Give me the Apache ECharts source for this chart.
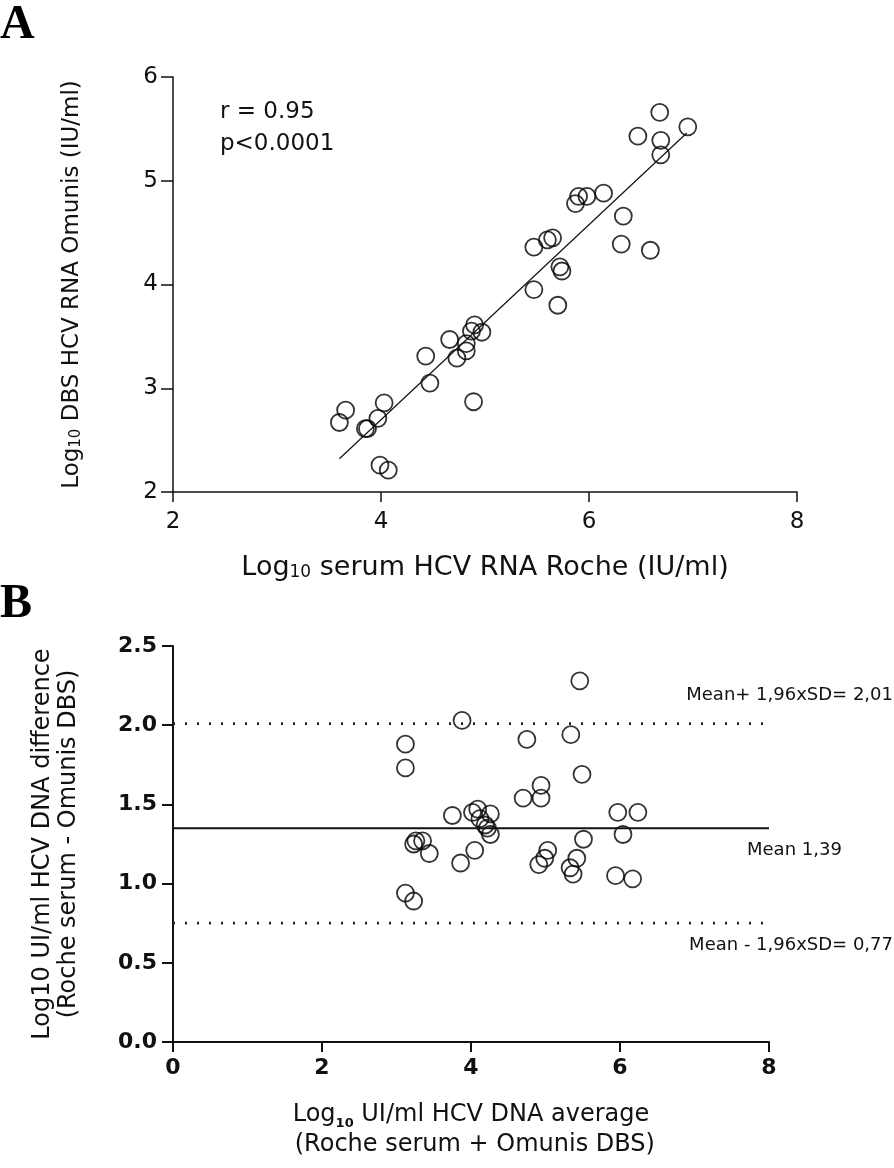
<!DOCTYPE html>
<html>
<head>
<meta charset="utf-8">
<script src="https://cdn.jsdelivr.net/npm/echarts@6/dist/echarts.min.js"></script>
<style>
html,body{margin:0;padding:0;background:#fff;}
#chart{width:894px;height:1168px;}
</style>
</head>
<body>
<div id="chart"></div>
<script>
// ---------- Panel A data ----------
const aSerum = [6.68, 6.95, 6.47, 6.69, 6.69, 5.90, 5.98, 5.87, 6.14, 6.33, 6.31, 6.59,
  5.47, 5.60, 5.65, 5.72, 5.74, 5.47, 5.70, 4.90, 4.97, 4.87, 4.66, 4.82, 4.82, 4.73,
  4.43, 4.47, 4.89, 4.03, 3.97, 3.66, 3.60, 3.85, 3.87, 3.99, 4.07];
const aDBS = [5.66, 5.52, 5.43, 5.39, 5.25, 4.85, 4.85, 4.78, 4.88, 4.66, 4.39, 4.33,
  4.36, 4.43, 4.45, 4.17, 4.13, 3.95, 3.80, 3.61, 3.54, 3.55, 3.47, 3.43, 3.36, 3.29,
  3.31, 3.05, 2.87, 2.86, 2.71, 2.79, 2.67, 2.61, 2.61, 2.26, 2.21];
const aFitX = [3.60, 6.94];
const aFitY = [2.32, 5.46];
const aXTicks = [2, 4, 6, 8];
const aYTicks = [2, 3, 4, 5, 6];

// ---------- Panel B data ----------
const bAverage = [5.46, 3.88, 3.12, 3.12, 4.75, 5.34, 5.49, 4.94, 4.70, 4.94, 3.75, 4.02,
  4.09, 4.26, 4.12, 4.19, 4.22, 4.26, 5.97, 6.24, 6.04, 5.51, 3.23, 3.26, 3.35, 3.44,
  4.05, 3.86, 5.03, 4.99, 4.91, 5.42, 5.33, 5.37, 5.94, 6.17, 3.12, 3.23];
const bDifference = [2.28, 2.03, 1.88, 1.73, 1.91, 1.94, 1.69, 1.62, 1.54, 1.54, 1.43, 1.45,
  1.47, 1.44, 1.41, 1.37, 1.35, 1.31, 1.45, 1.45, 1.31, 1.28, 1.25, 1.27, 1.27, 1.19,
  1.21, 1.13, 1.21, 1.16, 1.12, 1.16, 1.10, 1.06, 1.05, 1.03, 0.94, 0.89];
const bMean = 1.35;
const bUpper = 2.01;
const bLower = 0.75;
const bRange = [0, 8];
const bXTicks = [0, 2, 4, 6, 8];
const bYTicks = [0, 0.5, 1.0, 1.5, 2.0, 2.5];

const FONT = '"DejaVu Sans", "Liberation Sans", Arial, sans-serif';
const INK = '#111';

const chart = echarts.init(document.getElementById('chart'), null, {renderer: 'canvas'});

const circleStyle = {color: 'rgba(0,0,0,0)', borderColor: '#000', borderWidth: 1.8};

const option = {
  backgroundColor: '#fff',
  animation: false,
  grid: [
    {left: 173, top: 77, width: 624, height: 415},
    {left: 173, top: 646, width: 596, height: 396}
  ],
  xAxis: [
    {
      gridIndex: 0, type: 'value', min: aXTicks[0], max: aXTicks[aXTicks.length - 1], interval: 2,
      splitLine: {show: false},
      axisLine: {lineStyle: {color: INK, width: 1.5}},
      axisTick: {length: 10, lineStyle: {color: INK, width: 1.5}},
      axisLabel: {color: INK, fontFamily: FONT, fontSize: 23, margin: 19},
      name: 'Log{sub|10} serum HCV RNA Roche (IU/ml)',
      nameLocation: 'middle', nameGap: 62,
      nameTextStyle: {color: INK, fontFamily: FONT, fontSize: 27,
        rich: {sub: {fontFamily: FONT, fontSize: 17, color: INK, verticalAlign: 'bottom', padding: [9, 0, 0, 0]}}}
    },
    {
      gridIndex: 1, type: 'value', min: bRange[0], max: bRange[1], interval: 2,
      splitLine: {show: false},
      axisLine: {lineStyle: {color: INK, width: 2}},
      axisTick: {length: 10, lineStyle: {color: INK, width: 2}},
      axisLabel: {color: INK, fontFamily: FONT, fontWeight: 'bold', fontSize: 22, margin: 15},
      name: 'Log{sub|10} UI/ml HCV DNA average\n (Roche serum + Omunis DBS)',
      nameLocation: 'middle', nameGap: 58,
      nameTextStyle: {color: INK, fontFamily: FONT, fontSize: 24, lineHeight: 30,
        rich: {sub: {fontFamily: FONT, fontSize: 13, fontWeight: 'bold', color: INK, verticalAlign: 'bottom', padding: [7, 0, 0, 0]}}}
    }
  ],
  yAxis: [
    {
      gridIndex: 0, type: 'value', min: aYTicks[0], max: aYTicks[aYTicks.length - 1], interval: 1,
      splitLine: {show: false},
      axisLine: {lineStyle: {color: INK, width: 1.5}},
      axisTick: {length: 12, lineStyle: {color: INK, width: 1.5}},
      axisLabel: {color: INK, fontFamily: FONT, fontSize: 23, margin: 15},
      name: 'Log{sub|10} DBS HCV RNA Omunis (IU/ml)',
      nameLocation: 'middle', nameGap: 89, nameRotate: 90,
      nameTextStyle: {color: INK, fontFamily: FONT, fontSize: 23,
        rich: {sub: {fontFamily: FONT, fontSize: 15, color: INK, verticalAlign: 'bottom', padding: [8, 0, 0, 0]}}}
    },
    {
      gridIndex: 1, type: 'value', min: bYTicks[0], max: bYTicks[bYTicks.length - 1], interval: 0.5,
      splitLine: {show: false},
      axisLine: {lineStyle: {color: INK, width: 2}},
      axisTick: {length: 11, lineStyle: {color: INK, width: 2}},
      axisLabel: {color: INK, fontFamily: FONT, fontWeight: 'bold', fontSize: 22, margin: 16,
        formatter: v => v.toFixed(1)},
      name: 'Log10 UI/ml HCV DNA difference\n(Roche serum - Omunis DBS)',
      nameLocation: 'middle', nameGap: 91, nameRotate: 90,
      nameTextStyle: {color: INK, fontFamily: FONT, fontSize: 24, lineHeight: 26}
    }
  ],
  series: [
    {
      type: 'scatter', xAxisIndex: 0, yAxisIndex: 0, symbol: 'circle', symbolSize: 17,
      itemStyle: circleStyle,
      data: aSerum.map((x, i) => [x, aDBS[i]])
    },
    {
      type: 'line', xAxisIndex: 0, yAxisIndex: 0, symbol: 'none',
      lineStyle: {color: INK, width: 1.2},
      data: aFitX.map((x, i) => [x, aFitY[i]])
    },
    {
      type: 'scatter', xAxisIndex: 1, yAxisIndex: 1, symbol: 'circle', symbolSize: 17,
      itemStyle: circleStyle,
      data: bAverage.map((x, i) => [x, bDifference[i]])
    },
    {
      type: 'line', xAxisIndex: 1, yAxisIndex: 1, symbol: 'none',
      lineStyle: {color: INK, width: 2},
      data: bRange.map(x => [x, bMean])
    },
    {
      type: 'line', xAxisIndex: 1, yAxisIndex: 1, symbol: 'none',
      lineStyle: {color: '#222', width: 2.8, type: [2, 10]},
      data: bRange.map(x => [x, bUpper])
    },
    {
      type: 'line', xAxisIndex: 1, yAxisIndex: 1, symbol: 'none',
      lineStyle: {color: '#222', width: 2.8, type: [2, 10]},
      data: bRange.map(x => [x, bLower])
    }
  ],
  graphic: [
    {type: 'text', left: 0, top: 2, style: {text: 'A', font: 'bold 48px "Liberation Serif", "Times New Roman", serif', fill: '#000'}},
    {type: 'text', left: 0, top: 581, style: {text: 'B', font: 'bold 48px "Liberation Serif", "Times New Roman", serif', fill: '#000'}},
    {type: 'text', left: 220, top: 101, style: {text: 'r = 0.95', font: '23px ' + FONT, fill: INK}},
    {type: 'text', left: 220, top: 133, style: {text: 'p<0.0001', font: '23px ' + FONT, fill: INK}},
    {type: 'text', right: 1, top: 686, style: {text: 'Mean+ 1,96xSD= 2,01', font: '18px ' + FONT, fill: INK}},
    {type: 'text', left: 747, top: 841, style: {text: 'Mean 1,39', font: '18px ' + FONT, fill: INK}},
    {type: 'text', right: 1, top: 936, style: {text: 'Mean - 1,96xSD= 0,77', font: '18px ' + FONT, fill: INK}}
  ]
};
chart.setOption(option);
</script>
</body>
</html>
